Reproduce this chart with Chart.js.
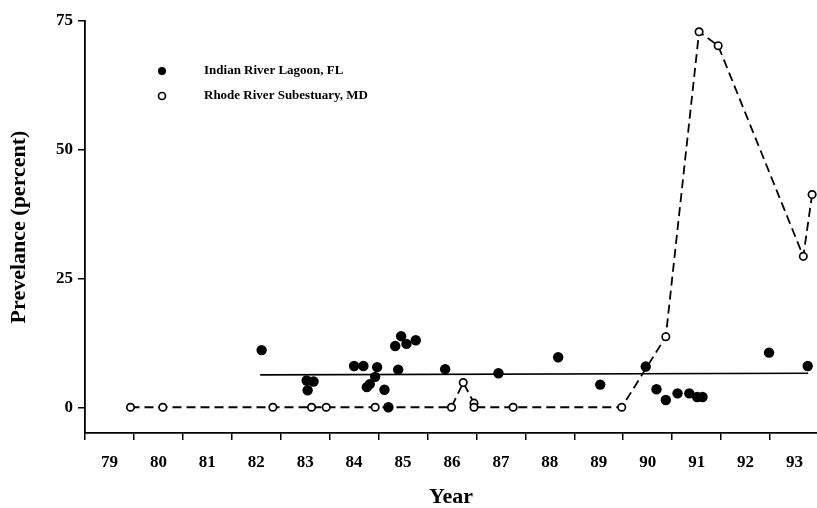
<!DOCTYPE html>
<html>
<head>
<meta charset="utf-8">
<script src="https://cdn.jsdelivr.net/npm/chart.js@4"></script>
<style>
  html, body { margin: 0; padding: 0; background: #fff; }
  #wrap { width: 817px; height: 508px; }
</style>
</head>
<body>
<div id="wrap"><canvas id="prevalenceChart"></canvas></div>
<script>
// Year ticks (tick marks sit on year boundaries, labels in the middle of each year)
const yearTicks = [79, 80, 81, 82, 83, 84, 85, 86, 87, 88, 89, 90, 91, 92, 93];
const prevalenceTicks = [0, 25, 50, 75];

// Indian River Lagoon, FL (filled circles)
const indianRiverYears = [82.61, 83.53, 83.67, 83.55, 84.50, 84.69, 84.97, 84.93, 84.82, 84.76,
  85.12, 85.20, 85.40, 85.34, 85.46, 85.57, 85.76, 86.36, 87.45, 88.67, 89.53, 90.46,
  90.68, 90.87, 91.11, 91.35, 91.51, 91.62, 92.98, 93.77];
const indianRiverValues = [11.1, 5.2, 5.0, 3.3, 8.0, 8.0, 7.8, 5.9, 4.5, 3.9,
  3.4, 0.0, 7.3, 11.9, 13.8, 12.3, 13.0, 7.4, 6.6, 9.7, 4.4, 7.9,
  3.5, 1.4, 2.7, 2.7, 2.0, 2.0, 10.6, 8.0];

// Rhode River Subestuary, MD (open circles, dashed line)
const rhodeRiverYears = [79.93, 80.59, 82.84, 83.63, 83.93, 84.93, 86.49, 86.73, 86.95, 86.95,
  87.75, 89.97, 90.87, 91.55, 91.94, 93.68, 93.86];
const rhodeRiverValues = [0, 0, 0, 0, 0, 0, 0, 4.8, 0.8, 0,
  0, 0, 13.7, 72.9, 70.2, 29.3, 41.3];

// Indian River regression line end points
const trendYears = [82.58, 93.78];
const trendValues = [6.3, 6.6];

const toPoints = (xs, ys) => xs.map((x, i) => ({ x: x, y: ys[i] }));

const SERIF = '"Liberation Serif", "Times New Roman", serif';

// legend drawn inside the plot, top left
const legendInPlot = {
  id: 'legendInPlot',
  afterDraw(chart) {
    const ctx = chart.ctx;
    const area = chart.chartArea;
    let y = area.top + 50;
    ctx.save();
    chart.data.datasets.forEach(ds => {
      if (!ds.inLegend) return;
      const x = area.left + 77;
      ctx.fillStyle = ds.pointBackgroundColor;
      ctx.strokeStyle = ds.pointBorderColor;
      ctx.lineWidth = ds.pointBorderWidth;
      Chart.helpers.drawPoint(ctx, {
        pointStyle: 'circle',
        radius: ds.legendRadius,
        borderWidth: ds.pointBorderWidth,
        rotation: 0
      }, x, y);
      ctx.fillStyle = '#000';
      ctx.font = 'bold 13px ' + SERIF;
      ctx.textBaseline = 'middle';
      ctx.textAlign = 'left';
      ctx.fillText(ds.label, x + 42, y);
      y += 25;
    });
    ctx.restore();
  }
};

// no side padding for the x axes, the plot runs to the right edge
const noSidePadding = scale => {
  scale.paddingLeft = 0;
  scale.paddingRight = 0;
};

const ctx = document.getElementById('prevalenceChart').getContext('2d');
new Chart(ctx, {
  type: 'scatter',
  data: {
    datasets: [
      {
        label: 'Indian River Lagoon, FL',
        inLegend: true,
        legendRadius: 4,
        data: toPoints(indianRiverYears, indianRiverValues),
        pointRadius: 5.2,
        pointBackgroundColor: '#000',
        pointBorderColor: '#000',
        pointBorderWidth: 0,
        showLine: false,
        order: 1
      },
      {
        label: 'Rhode River Subestuary, MD',
        inLegend: true,
        legendRadius: 3.5,
        data: toPoints(rhodeRiverYears, rhodeRiverValues),
        showLine: true,
        borderColor: '#000',
        borderWidth: 1.8,
        borderDash: [9, 5],
        pointRadius: 3.7,
        pointBackgroundColor: '#fff',
        pointBorderColor: '#000',
        pointBorderWidth: 1.7,
        order: 2
      },
      {
        label: 'Indian River trend',
        data: toPoints(trendYears, trendValues),
        showLine: true,
        borderColor: '#000',
        borderWidth: 1.7,
        pointRadius: 0,
        order: 3
      }
    ]
  },
  options: {
    responsive: true,
    maintainAspectRatio: false,
    animation: false,
    clip: false,
    layout: { autoPadding: false, padding: { top: 21, right: 0, left: 0, bottom: 0 } },
    plugins: {
      legend: { display: false },
      tooltip: { enabled: false }
    },
    scales: {
      x: {
        type: 'linear',
        position: 'bottom',
        min: 79,
        max: 93.96,
        afterBuildTicks: scale => { scale.ticks = yearTicks.map(v => ({ value: v })); },
        afterFit: scale => { scale.height = 7; noSidePadding(scale); },
        ticks: { display: false },
        grid: { drawOnChartArea: false, drawTicks: true, tickLength: 7, color: '#000', lineWidth: 1.5 },
        border: { display: true, color: '#000', width: 1.8 }
      },
      xLabels: {
        type: 'linear',
        position: 'bottom',
        min: 79,
        max: 93.96,
        afterBuildTicks: scale => { scale.ticks = yearTicks.map(v => ({ value: v + 0.5 })); },
        afterFit: scale => { scale.height = 68; noSidePadding(scale); },
        ticks: {
          autoSkip: false,
          maxRotation: 0,
          padding: 4,
          color: '#000',
          font: { family: SERIF, size: 17, weight: 'bold' },
          callback: v => String(Math.floor(v))
        },
        grid: { display: false },
        border: { display: false },
        title: {
          display: true,
          text: 'Year',
          color: '#000',
          font: { family: SERIF, size: 22, weight: 'bold' },
          padding: { top: 0, bottom: -3 }
        }
      },
      y: {
        min: -5,
        max: 75,
        afterBuildTicks: scale => { scale.ticks = prevalenceTicks.map(v => ({ value: v })); },
        afterFit: scale => { scale.width = 85; },
        ticks: {
          padding: 5,
          color: '#000',
          font: { family: SERIF, size: 17, weight: 'bold' }
        },
        grid: { drawOnChartArea: false, drawTicks: true, tickLength: 7, color: '#000', lineWidth: 1.5 },
        border: { display: true, color: '#000', width: 1.8 },
        title: {
          display: true,
          text: 'Prevelance (percent)',
          color: '#000',
          font: { family: SERIF, size: 22, weight: 'bold' },
          padding: { top: 6, bottom: 0 }
        }
      }
    }
  },
  plugins: [legendInPlot]
});
</script>
</body>
</html>
